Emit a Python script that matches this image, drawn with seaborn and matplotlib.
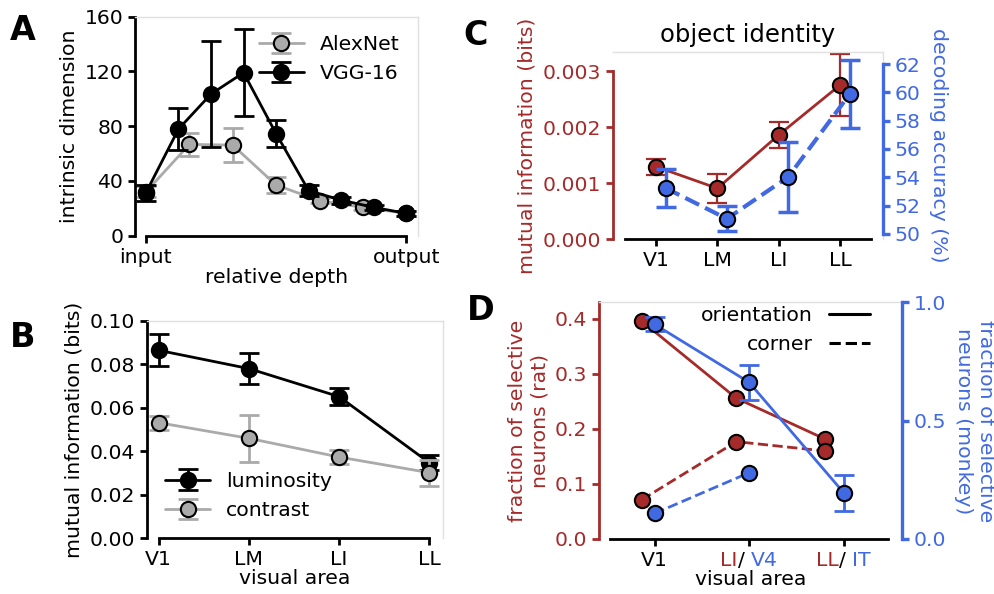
import numpy as np
import matplotlib
matplotlib.use('Agg')
import matplotlib.pyplot as plt
import seaborn as sns
from matplotlib.lines import Line2D
from matplotlib.ticker import FormatStrFormatter
from matplotlib.offsetbox import TextArea, HPacker, AnnotationBbox

# ---------------- data ----------------
# Panel A : intrinsic dimension vs relative depth
vgg_depth = [0.0, 0.125, 0.25, 0.375, 0.5, 0.625, 0.75, 0.875, 1.0]
vgg_dim = [31.4, 77.9, 103.5, 119.1, 74.5, 32.9, 26.0, 20.7, 16.3]
vgg_err = [5.7, 15.5, 39.0, 32.0, 9.8, 4.0, 2.5, 2.0, 2.0]
alex_depth = [0.0, 0.167, 0.333, 0.5, 0.667, 0.833, 1.0]
alex_dim = [32.0, 66.7, 66.2, 37.0, 25.6, 20.7, 16.3]
alex_err = [4.0, 8.5, 12.4, 5.6, 2.0, 2.0, 2.0]
depth_ticks = [0.0, 1.0]
depth_ticklabels = ['input', 'output']

# Panel B : mutual information, luminosity / contrast
areas_rat = ['V1', 'LM', 'LI', 'LL']
lum_mi = [0.0865, 0.0781, 0.0652, 0.0348]
lum_err = [0.0073, 0.0072, 0.0040, 0.0035]
con_mi = [0.0532, 0.0460, 0.0374, 0.0302]
con_err = [0.0033, 0.0107, 0.0032, 0.0060]

# Panel C : object identity
obj_mi = [0.001295, 0.000909, 0.00186, 0.00275]
obj_mi_err = [0.00014, 0.00026, 0.00024, 0.00056]
obj_acc = [53.24, 51.07, 54.02, 59.86]
obj_acc_err = [1.37, 0.88, 2.45, 2.41]

# Panel D : fraction of selective neurons
d_rat_areas = ['V1', 'LI', 'LL']
d_monkey_areas = ['V1', 'V4', 'IT']
rat_orient = [0.396, 0.256, 0.182]
rat_corner = [0.0715, 0.177, 0.160]
monkey_orient = [0.907, 0.662, 0.196]
monkey_orient_err = [0.030, 0.075, 0.076]
monkey_corner = [0.108, 0.280]

# ---------------- style ----------------
sns.set_theme(style='ticks', font='DejaVu Sans')
FS = 14.7
plt.rcParams.update({
    'font.family': ['DejaVu Sans'],
    'font.size': FS,
    'axes.labelsize': FS,
    'xtick.labelsize': FS,
    'ytick.labelsize': FS,
    'legend.fontsize': FS,
    'axes.edgecolor': 'black',
    'xtick.color': 'black',
    'ytick.color': 'black',
    'text.color': 'black',
    'axes.labelcolor': 'black',
    'xtick.major.size': 5,
    'ytick.major.size': 5,
    'xtick.major.width': 2,
    'ytick.major.width': 2,
})

RED = '#a52a2a'
BLUE = '#4169e1'
GRAY = '#aaaaaa'
FRAME = '#e0e0e0'
MS = 11
MEW = 1.5

W, H = 995, 594
fig = plt.figure(figsize=(W / 100, H / 100), dpi=100)


def add_axes(l, r, t, b):
    return fig.add_axes([l / W, 1 - b / H, (r - l) / W, (b - t) / H])


def frame(ax):
    for s in ['top', 'right']:
        ax.spines[s].set_visible(True)
        ax.spines[s].set_color(FRAME)
        ax.spines[s].set_linewidth(1.0)
    for s in ['left', 'bottom']:
        ax.spines[s].set_linewidth(2)
        ax.spines[s].set_color('black')


def line(ax, x, y, color, ls='-', lw=2, zorder=3):
    sns.lineplot(x=x, y=y, ax=ax, color=color, linestyle=ls, linewidth=lw,
                 marker='o', markersize=MS, markeredgecolor='black',
                 markeredgewidth=MEW, errorbar=None, sort=False, zorder=zorder)
    return ax.lines[-1]


def ebar(ax, x, y, err, color, lw=2, zorder=2):
    return ax.errorbar(x, y, yerr=err, fmt='none', ecolor=color, elinewidth=lw,
                       capsize=7, capthick=lw, zorder=zorder)


# ---------------- Panel A ----------------
axA = add_axes(135, 418.3, 16.7, 235.7)
frame(axA)
eA1 = ebar(axA, alex_depth, alex_dim, alex_err, GRAY, zorder=2)
lA1 = line(axA, alex_depth, alex_dim, GRAY, zorder=3)
eA2 = ebar(axA, vgg_depth, vgg_dim, vgg_err, 'black', zorder=4)
lA2 = line(axA, vgg_depth, vgg_dim, 'black', zorder=5)
axA.set_xlim(-0.042, 1.046)
axA.set_ylim(0, 160)
axA.set_yticks([0, 40, 80, 120, 160])
axA.set_xticks(depth_ticks)
axA.set_xticklabels(depth_ticklabels)
axA.spines['bottom'].set_bounds(0, 1)
axA.set_xlabel('relative depth', labelpad=1)
axA.set_ylabel('intrinsic dimension')
axA.legend([(eA1, lA1), (eA2, lA2)], ['AlexNet', 'VGG-16'], loc='upper right',
           frameon=False, handlelength=2.2)

# ---------------- Panel B ----------------
axB = add_axes(146.7, 443.3, 321, 538.3)
frame(axB)
xb = np.arange(len(areas_rat))
eB1 = ebar(axB, xb, lum_mi, lum_err, 'black', zorder=2)
lB1 = line(axB, xb, lum_mi, 'black', zorder=3)
eB2 = ebar(axB, xb, con_mi, con_err, GRAY, zorder=4)
lB2 = line(axB, xb, con_mi, GRAY, zorder=5)
axB.set_xlim(-0.133, 3.156)
axB.set_ylim(0, 0.10)
axB.set_yticks([0, 0.02, 0.04, 0.06, 0.08, 0.10])
axB.yaxis.set_major_formatter(FormatStrFormatter('%.2f'))
axB.set_xticks(xb)
axB.set_xticklabels(areas_rat)
axB.spines['bottom'].set_bounds(0, 3)
axB.set_xlabel('visual area', labelpad=0)
axB.set_ylabel('mutual information (bits)')
axB.legend([(eB1, lB1), (eB2, lB2)], ['luminosity', 'contrast'], loc='lower left',
           frameon=False, handlelength=2.2)

# ---------------- Panel C ----------------
axC = add_axes(612.7, 882.7, 51.7, 239.3)
frame(axC)
xc = np.arange(len(areas_rat))
ebar(axC, xc, obj_mi, obj_mi_err, RED, lw=1.6, zorder=2)
line(axC, xc, obj_mi, RED, zorder=3)
axC.set_xlim(-0.707, 3.696)
axC.set_ylim(0, 0.003345)
axC.set_yticks([0, 0.001, 0.002, 0.003])
axC.yaxis.set_major_formatter(FormatStrFormatter('%.3f'))
axC.set_xticks(xc)
axC.set_xticklabels(areas_rat)
axC.spines['bottom'].set_bounds(-0.5, 3.5)
axC.spines['left'].set_bounds(0, 0.003)
axC.spines['left'].set_color(RED)
axC.tick_params(axis='y', colors=RED)
axC.set_ylabel('mutual information (bits)', color=RED)
axC.set_title('object identity', fontsize=17.5, pad=7)

tC = axC.twinx()
for s in ['left', 'top', 'bottom']:
    tC.spines[s].set_visible(False)
ebar(tC, xc + 0.155, obj_acc, obj_acc_err, BLUE, lw=2.5, zorder=2)
line(tC, xc + 0.155, obj_acc, BLUE, ls='--', lw=3, zorder=3)
tC.set_ylim(49.62, 62.87)
tC.set_yticks([50, 52, 54, 56, 58, 60, 62])
tC.spines['right'].set_visible(True)
tC.spines['right'].set_color(BLUE)
tC.spines['right'].set_linewidth(2.4)
tC.spines['right'].set_bounds(50, 62)
tC.tick_params(axis='y', colors=BLUE, width=2.4)
tC.set_ylabel('decoding accuracy (%)', color=BLUE, rotation=270, va='bottom', labelpad=6)

# ---------------- Panel D ----------------
axD = add_axes(599.3, 901.7, 302.3, 539)
frame(axD)
xd = np.arange(len(d_rat_areas))
rat_shift = np.array([-0.135, -0.135, -0.2])
line(axD, xd + rat_shift, rat_orient, RED, zorder=3)
line(axD, xd + rat_shift, rat_corner, RED, ls='--', zorder=3)
axD.set_xlim(-0.585, 2.615)
axD.set_ylim(0, 0.4303)
axD.set_yticks([0, 0.1, 0.2, 0.3, 0.4])
axD.yaxis.set_major_formatter(FormatStrFormatter('%.1f'))
axD.set_xticks(xd)
axD.set_xticklabels([d_rat_areas[0], '', ''])
axD.spines['bottom'].set_bounds(-0.47, 2.47)
axD.spines['left'].set_color(RED)
axD.tick_params(axis='y', colors=RED)
axD.set_ylabel('fraction of selective\nneurons (rat)', color=RED)
axD.set_xlabel('visual area', labelpad=0)

tD = axD.twinx()
for s in ['left', 'top', 'bottom']:
    tD.spines[s].set_visible(False)
ebar(tD, xd, monkey_orient, monkey_orient_err, BLUE, lw=2, zorder=2)
line(tD, xd, monkey_orient, BLUE, zorder=3)
line(tD, xd[:len(monkey_corner)], monkey_corner, BLUE, ls='--', zorder=3)
tD.set_ylim(0, 1.0)
tD.set_yticks([0, 0.5, 1.0])
tD.yaxis.set_major_formatter(FormatStrFormatter('%.1f'))
tD.spines['right'].set_visible(True)
tD.spines['right'].set_color(BLUE)
tD.spines['right'].set_linewidth(2.4)
tD.tick_params(axis='y', colors=BLUE, width=2.4)
tD.set_ylabel('fraction of selective\nneurons (monkey)', color=BLUE, rotation=270,
              va='bottom', labelpad=6)
tD.legend([Line2D([], [], color='black', lw=2.2),
           Line2D([], [], color='black', lw=2.2, ls='--')],
          ['orientation', 'corner'], loc='upper right', bbox_to_anchor=(0.955, 1.063),
          frameon=False, markerfirst=False)

# composite multi-coloured tick labels
for i in range(1, len(d_rat_areas)):
    left = HPacker(children=[TextArea(d_rat_areas[i], textprops=dict(color=RED, size=FS)),
                             TextArea('/', textprops=dict(color='black', size=FS))],
                   sep=0, pad=0, align='baseline')
    pack = HPacker(children=[left,
                             TextArea(d_monkey_areas[i], textprops=dict(color=BLUE, size=FS))],
                   sep=4.5, pad=0, align='baseline')
    ab = AnnotationBbox(pack, (xd[i], 0), xycoords=axD.get_xaxis_transform(),
                        xybox=(0, -8.5), boxcoords='offset points',
                        box_alignment=(0.5, 1), frameon=False, pad=0)
    axD.add_artist(ab)

# panel letters
for lab, x, y in [('A', 10, 14), ('B', 10, 321), ('C', 463, 19), ('D', 467, 294)]:
    fig.text(x / W, 1 - y / H, lab, fontsize=24, fontweight='bold', va='top', ha='left')

fig.savefig('out.png', dpi=100)
